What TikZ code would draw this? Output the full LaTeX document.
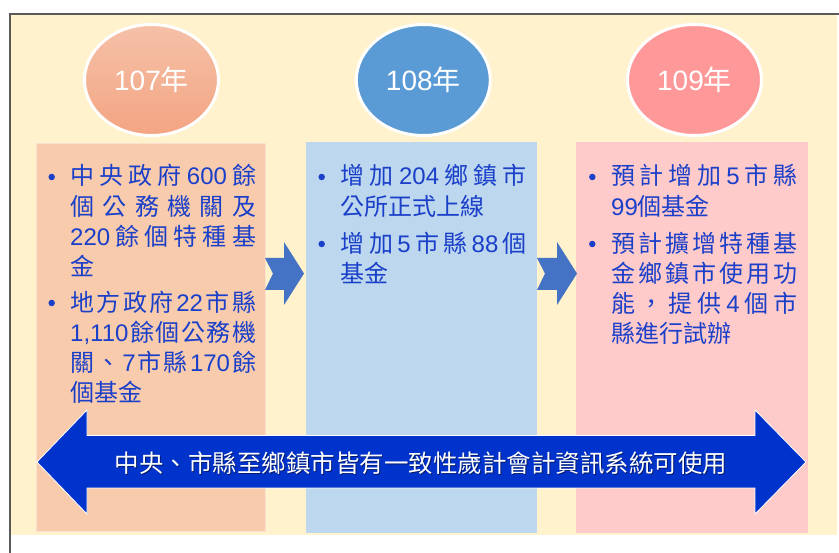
\documentclass[tikz,border=0pt]{standalone}
\usepackage{fontspec}
\setmainfont{Noto Sans CJK TC}
\newfontfamily\lat{Liberation Sans}
\newcommand\D[1]{{\lat #1}}
\usetikzlibrary{shapes.geometric}
\definecolor{cream}{HTML}{FFF2CC}
\definecolor{colA}{HTML}{F8CBAD}
\definecolor{colAb}{HTML}{FBE1D0}
\definecolor{colB}{HTML}{BDD7EE}
\definecolor{colC}{HTML}{FFCACA}
\definecolor{eAtop}{HTML}{F5C1A8}
\definecolor{eAbot}{HTML}{F4A483}
\definecolor{eB}{HTML}{5B9BD5}
\definecolor{eC}{HTML}{FF9999}
\definecolor{chevc}{HTML}{4472C4}
\definecolor{bigc}{HTML}{0033CC}
\definecolor{txt}{HTML}{1A3FC9}
\definecolor{framec}{HTML}{5A5A5A}
\newcommand\JL[4]{\node[tl] (#1) at (#2,#3) {\hbox to 186pt{#4}};}
\begin{document}
\begin{tikzpicture}[x=1pt,y=-1pt,
  tl/.style={anchor=base west, inner sep=0pt, text=txt, font=\fontsize{24}{30}\selectfont},
  bul/.style={circle, fill=txt, inner sep=0pt, minimum size=6.5pt},
  yr/.style={ellipse, draw=white, line width=3pt, minimum width=134pt, minimum height=111pt, inner sep=0pt, text=white, font=\fontsize{28}{32}\selectfont},
  chev/.style={fill=chevc, draw=none},
  bigarrow/.style={fill=bigc, draw=white, line width=0.8pt},
  bigtxt/.style={inner sep=0pt, text=white, font=\fontsize{24.5}{28}\selectfont},
  shadowtxt/.style={inner sep=0pt, text=black, opacity=0.45, font=\fontsize{24.5}{28}\selectfont}]
\useasboundingbox (0,0) rectangle (839,553);
\fill[white] (0,0) rectangle (839,553);
% background panel
\fill[cream] (10,14) rectangle (837,535);
\draw[framec, line width=1.5pt] (10,553) -- (10,14) -- (839,14);
% columns
\fill[colA] (36,143) rectangle (266,532);
\draw[colAb, line width=1.2pt] (36.6,143.6) rectangle (265.4,531.4);
\fill[colB] (306,142) rectangle (537,533);
\fill[colC] (576,142) rectangle (808,533);
% year ellipses
\node[yr, top color=eAtop, bottom color=eAbot] (y107) at (151.5,80) {\D{107}年};
\node[yr, fill=eB] (y108) at (423.3,80) {\D{108}年};
\node[yr, fill=eC] (y109) at (694.5,80) {\D{109}年};
% chevrons
\draw[chev] (265,258) -- (284,258) -- (284,242) -- (304,273.5) -- (284,305) -- (284,290) -- (265,290) -- (273,273.5) -- cycle;
\draw[chev] (537,258) -- (557,258) -- (557,242) -- (577,273.5) -- (557,305) -- (557,290) -- (537,290) -- (545,273.5) -- cycle;
% column 1
\node[bul] (b11) at (51.7,177) {};
\JL{a1}{70}{185}{中\hfil 央\hfil 政\hfil 府\hfil \D{600}\hfil 餘}
\JL{a2}{70}{215.5}{個\hfil 公\hfil 務\hfil 機\hfil 關\hfil 及}
\JL{a3}{70}{246}{\D{220}\hfil 餘\hfil 個\hfil 特\hfil 種\hfil 基}
\JL{a4}{70}{275.5}{金\hfil}
\node[bul] (b12) at (51.7,303) {};
\JL{a5}{70}{312}{地\hfil 方\hfil 政\hfil 府\hfil \D{22}\hfil 市\hfil 縣}
\JL{a6}{70}{342}{\D{1,110}\hfil 餘\hfil 個\hfil 公\hfil 務\hfil 機}
\JL{a7}{70}{372}{關\hfil 、\hfil \D{7}\hfil 市\hfil 縣\hfil \D{170}\hfil 餘}
\JL{a8}{70}{402}{個基金\hfil}
% column 2
\node[bul] (b21) at (321.7,177) {};
\JL{b1}{340.5}{185}{增\hfil 加\hfil \D{204}\hfil 鄉\hfil 鎮\hfil 市}
\JL{b2}{340.5}{216}{公所正式上線\hfil}
\node[bul] (b22) at (321.7,244) {};
\JL{b3}{340.5}{253}{增\hfil 加\hfil \D{5}\hfil 市\hfil 縣\hfil \D{88}\hfil 個}
\JL{b4}{340.5}{283}{基金\hfil}
% column 3
\node[bul] (b31) at (592.3,177) {};
\JL{c1}{611}{185}{預\hfil 計\hfil 增\hfil 加\hfil \D{5}\hfil 市\hfil 縣}
\JL{c2}{611}{216}{\D{99}個基金\hfil}
\node[bul] (b32) at (592.3,244) {};
\JL{c3}{611}{253}{預\hfil 計\hfil 擴\hfil 增\hfil 特\hfil 種\hfil 基}
\JL{c4}{611}{283}{金\hfil 鄉\hfil 鎮\hfil 市\hfil 使\hfil 用\hfil 功}
\JL{c5}{611}{313}{能\hfil ，\hfil 提\hfil 供\hfil \D{4}\hfil 個\hfil 市}
\JL{c6}{611}{343}{縣進行試辦\hfil}
% big double arrow
\draw[bigarrow] (37,462) -- (87,410) -- (87,435.5) -- (755,435.5) -- (755,410) -- (806,462) -- (755,514) -- (755,488) -- (87,488) -- (87,514) -- cycle;
\node[shadowtxt] (bigs) at (422,464) {中央、市縣至鄉鎮市皆有一致性歲計會計資訊系統可使用};
\node[bigtxt] (bigt) at (421,463) {中央、市縣至鄉鎮市皆有一致性歲計會計資訊系統可使用};
\end{tikzpicture}
\end{document}
